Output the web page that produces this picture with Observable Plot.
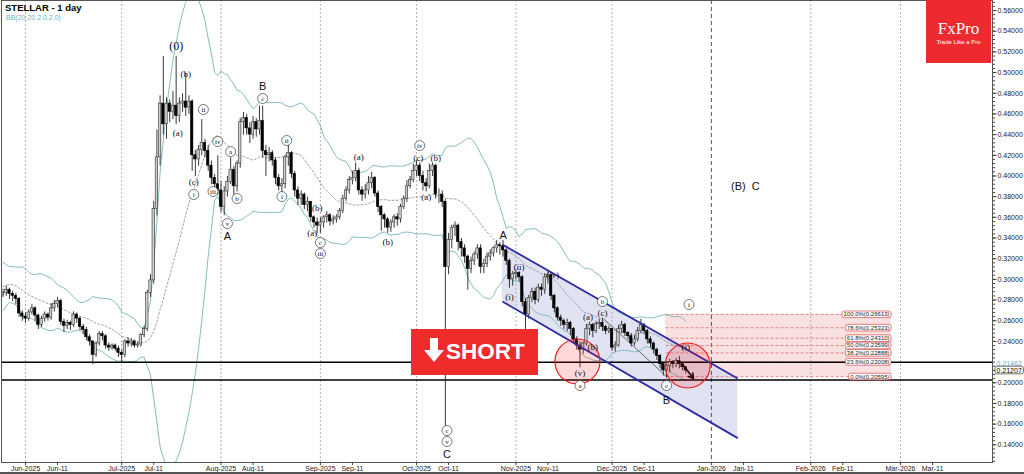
<!DOCTYPE html>
<html><head><meta charset="utf-8">
<script src="https://cdn.jsdelivr.net/npm/d3@7"></script>
<script src="https://cdn.jsdelivr.net/npm/@observablehq/plot@0.6"></script>
<style>
html,body{margin:0;padding:0;background:#fff;}
#wrap{position:relative;width:1024px;height:474px;overflow:hidden;font-family:"Liberation Sans",Arial,sans-serif;}
#wrap svg.main{position:absolute;left:0;top:0;}
.ov{position:absolute;}
#title{left:5px;top:2px;font-size:9.5px;font-weight:bold;color:#000;}
#sub{left:6px;top:14px;font-size:7px;color:#74aeb4;}
#logo{left:926px;top:0;width:65px;height:63px;background:#ed2a2f;color:#fff;text-align:center;}
#logo .b{font-family:"Liberation Serif","DejaVu Serif",serif;font-size:17px;margin-top:20px;line-height:17px;}
#logo .s{font-size:6px;margin-top:2px;}
#short{left:411px;top:329px;width:127px;height:46px;background:#f02b2c;color:#fff;}
#short .t{position:absolute;left:35px;top:10px;font-size:22.5px;font-weight:bold;line-height:26px;}
#bottom{left:0;top:472px;width:1024px;height:2px;background:#555;}
#dbg{left:300px;top:20px;font-size:9px;color:#c00;}
</style></head>
<body>
<div id="wrap">
  <div class="ov" id="title">STELLAR - 1 day</div>
  <div class="ov" id="sub">BB(20,20,2.0,2.0)</div>
  <div class="ov" id="logo"><div class="b">FxPro</div><div class="s">Trade Like a Pro</div></div>
  <div class="ov" id="short"><svg width="30" height="46" style="position:absolute;left:10px;top:0"><polygon points="9,9 17,9 17,21 23,21 13,33 3,21 9,21" fill="#fff"/></svg><div class="t">SHORT</div></div>
  <div class="ov" id="bottom"></div>
  <div class="ov" id="dbg"></div>
</div>
<script>
// ---------- DATA ----------
const candleStart = "2025-05-25";
// closes of the 20 days before the first visible candle (used only for the Bollinger band)
const priorCloses = [0.268,0.266,0.270,0.290,0.302,0.310,0.305,0.312,0.310,0.300,0.292,0.290,0.284,0.294,0.290,0.289,0.296,0.300,0.286,0.288];

const opens = [
 0.285,0.287,0.290,0.286,0.284,0.281,0.267,
 0.264,0.262,0.268,0.272,0.265,0.256,0.262,0.266,0.263,0.272,0.276,0.279,0.259,0.255,0.258,0.256,0.266,0.262,0.254,0.251,0.244,0.240,0.227,0.238,0.247,0.245,0.236,0.234,0.236,0.233,
 0.229,0.227,0.240,0.238,0.240,0.236,0.237,0.246,0.252,0.287,0.299,0.368,0.418,0.470,0.450,0.470,0.462,0.468,0.458,0.470,0.472,0.466,0.472,0.420,0.416,0.425,0.432,0.424,0.410,0.398,0.392,
 0.386,0.370,0.385,0.394,0.406,0.390,0.412,0.452,0.456,0.446,0.440,0.452,0.445,0.453,0.424,0.420,0.422,0.415,0.398,0.390,0.392,0.418,0.422,0.402,0.386,0.378,0.382,0.372,0.375,0.360,0.355,
 0.352,0.355,0.360,0.362,0.356,0.358,0.360,0.366,0.378,0.386,0.396,0.398,0.405,0.386,0.382,0.386,0.393,0.398,0.383,0.370,0.362,0.358,0.350,0.355,0.360,0.358,0.370,0.378,0.390,0.396,
 0.405,0.410,0.400,0.393,0.390,0.405,0.410,0.382,0.382,0.375,0.312,0.338,0.350,0.352,0.336,0.330,0.322,0.310,0.318,0.324,0.330,0.312,0.315,0.322,0.325,0.330,0.333,0.332,0.328,0.318,0.300,
 0.305,0.306,0.302,0.278,0.266,0.282,0.288,0.280,0.292,0.290,0.302,0.304,0.284,0.272,0.263,0.260,0.256,0.258,0.252,0.242,0.236,0.232,0.238,0.252,0.256,0.250,0.257,0.258,0.254,0.250,
 0.252,0.234,0.236,0.252,0.256,0.248,0.245,0.238,0.242,0.250,0.256,0.250,0.242,0.238,0.232,0.226,0.218,0.212,0.216,0.220,0.218,0.221,0.218,0.215];
const highs = [
 0.291,0.294,0.292,0.289,0.287,0.283,0.270,
 0.268,0.271,0.276,0.274,0.267,0.265,0.269,0.268,0.277,0.280,0.283,0.281,0.262,0.261,0.260,0.269,0.268,0.264,0.257,0.254,0.247,0.241,0.240,0.250,0.250,0.247,0.239,0.238,0.238,0.236,
 0.232,0.242,0.244,0.243,0.241,0.240,0.248,0.255,0.290,0.305,0.376,0.445,0.478,0.516,0.476,0.474,0.482,0.516,0.476,0.480,0.500,0.478,0.474,0.425,0.430,0.455,0.436,0.430,0.415,0.402,0.420,
 0.395,0.390,0.400,0.418,0.410,0.415,0.456,0.462,0.460,0.452,0.458,0.456,0.468,0.468,0.430,0.428,0.425,0.418,0.402,0.398,0.420,0.430,0.424,0.405,0.390,0.386,0.384,0.380,0.376,0.362,0.360,
 0.360,0.362,0.366,0.364,0.362,0.363,0.369,0.382,0.390,0.400,0.405,0.413,0.408,0.390,0.392,0.400,0.404,0.400,0.386,0.372,0.364,0.360,0.358,0.363,0.364,0.373,0.381,0.396,0.400,0.412,
 0.415,0.413,0.405,0.398,0.412,0.413,0.412,0.388,0.386,0.378,0.345,0.353,0.356,0.354,0.340,0.334,0.324,0.322,0.327,0.334,0.334,0.320,0.326,0.329,0.332,0.338,0.336,0.338,0.330,0.320,0.308,
 0.309,0.308,0.304,0.282,0.285,0.292,0.292,0.296,0.296,0.306,0.309,0.306,0.286,0.274,0.266,0.262,0.262,0.260,0.254,0.245,0.240,0.240,0.257,0.259,0.258,0.260,0.262,0.263,0.256,0.255,
 0.253,0.240,0.256,0.260,0.258,0.250,0.248,0.246,0.254,0.262,0.258,0.252,0.245,0.240,0.234,0.228,0.220,0.218,0.223,0.222,0.224,0.226,0.220,0.216];
const lows = [
 0.283,0.284,0.281,0.279,0.276,0.264,0.260,
 0.258,0.260,0.266,0.260,0.252,0.254,0.259,0.260,0.261,0.269,0.273,0.256,0.249,0.252,0.251,0.254,0.258,0.251,0.247,0.241,0.236,0.218,0.225,0.236,0.241,0.233,0.231,0.232,0.231,0.225,
 0.220,0.225,0.235,0.235,0.234,0.234,0.235,0.244,0.250,0.283,0.296,0.362,0.410,0.440,0.436,0.452,0.455,0.450,0.452,0.462,0.458,0.460,0.405,0.400,0.410,0.420,0.418,0.405,0.392,0.388,0.382,
 0.365,0.362,0.380,0.392,0.380,0.385,0.408,0.440,0.440,0.432,0.436,0.438,0.440,0.418,0.400,0.414,0.410,0.392,0.386,0.384,0.388,0.410,0.398,0.380,0.372,0.372,0.368,0.366,0.356,0.350,0.345,
 0.345,0.350,0.355,0.352,0.353,0.355,0.358,0.364,0.376,0.383,0.392,0.395,0.382,0.376,0.378,0.382,0.388,0.380,0.365,0.347,0.350,0.345,0.346,0.350,0.352,0.355,0.368,0.375,0.388,0.394,
 0.400,0.395,0.386,0.385,0.388,0.400,0.378,0.374,0.370,0.156,0.305,0.330,0.342,0.328,0.322,0.316,0.290,0.306,0.314,0.320,0.306,0.306,0.312,0.318,0.322,0.326,0.324,0.322,0.314,0.292,0.294,
 0.300,0.298,0.274,0.252,0.262,0.278,0.276,0.278,0.284,0.286,0.296,0.280,0.268,0.260,0.255,0.252,0.250,0.246,0.238,0.232,0.215,0.228,0.236,0.246,0.244,0.248,0.252,0.250,0.247,0.248,
 0.231,0.230,0.235,0.248,0.245,0.242,0.235,0.236,0.240,0.248,0.247,0.238,0.234,0.228,0.222,0.214,0.207,0.205,0.210,0.214,0.215,0.214,0.212,0.209];
const closes = [
 0.287,0.290,0.286,0.284,0.281,0.267,0.264,
 0.262,0.268,0.272,0.265,0.256,0.262,0.266,0.263,0.272,0.276,0.279,0.259,0.255,0.258,0.256,0.266,0.262,0.254,0.251,0.244,0.240,0.227,0.238,0.247,0.245,0.236,0.234,0.236,0.233,0.229,
 0.227,0.240,0.238,0.240,0.236,0.237,0.246,0.252,0.287,0.299,0.368,0.418,0.470,0.450,0.470,0.462,0.468,0.458,0.470,0.472,0.466,0.472,0.420,0.416,0.425,0.432,0.424,0.410,0.398,0.392,0.386,
 0.370,0.385,0.394,0.406,0.390,0.412,0.452,0.456,0.446,0.440,0.452,0.445,0.453,0.424,0.420,0.422,0.415,0.398,0.390,0.392,0.418,0.422,0.402,0.386,0.378,0.382,0.372,0.375,0.360,0.355,0.352,
 0.355,0.360,0.362,0.356,0.358,0.360,0.366,0.378,0.386,0.396,0.398,0.405,0.386,0.382,0.386,0.393,0.398,0.383,0.370,0.362,0.358,0.350,0.355,0.360,0.358,0.370,0.378,0.390,0.396,0.405,
 0.410,0.400,0.393,0.390,0.405,0.410,0.382,0.382,0.375,0.312,0.338,0.350,0.352,0.336,0.330,0.322,0.310,0.318,0.324,0.330,0.312,0.315,0.322,0.325,0.330,0.333,0.332,0.328,0.318,0.300,0.305,
 0.306,0.302,0.278,0.266,0.282,0.288,0.280,0.292,0.290,0.302,0.304,0.284,0.272,0.263,0.260,0.256,0.258,0.252,0.242,0.236,0.232,0.238,0.252,0.256,0.250,0.257,0.258,0.254,0.250,0.252,
 0.234,0.236,0.252,0.256,0.248,0.245,0.238,0.242,0.250,0.256,0.250,0.242,0.238,0.232,0.226,0.218,0.212,0.216,0.220,0.218,0.221,0.218,0.215,0.212];

const xTickDates = ["2025-06-01","2025-06-11","2025-07-01","2025-07-11","2025-08-01","2025-08-11","2025-09-01","2025-09-11","2025-10-01","2025-10-11","2025-11-01","2025-11-11","2025-12-01","2025-12-11","2026-01-01","2026-01-11","2026-02-01","2026-02-11","2026-03-01","2026-03-11"];
const xTickLabels = ["Jun-2025","Jun-11","Jul-2025","Jul-11","Aug-2025","Aug-11","Sep-2025","Sep-11","Oct-2025","Oct-11","Nov-2025","Nov-11","Dec-2025","Dec-11","Jan-2026","Jan-11","Feb-2026","Feb-11","Mar-2026","Mar-11"];
const monthLines = ["2025-06-01","2025-07-01","2025-08-01","2025-09-01","2025-10-01","2025-11-01","2025-12-01","2026-02-01","2026-03-01"];
const yearLines = ["2026-01-01"];
const yTicks = [0.14,0.16,0.18,0.20,0.24,0.26,0.28,0.30,0.32,0.34,0.36,0.38,0.40,0.42,0.44,0.46,0.48,0.50,0.52,0.54,0.56];
const levelLines = [0.2198, 0.2027];

const fibLevels = [0.26613,0.25323,0.24310,0.23599,0.22888,0.22008,0.20595];
const fibNames = ["100.0%","78.6%","61.8%","50.0%","38.2%","23.6%","0.0%"];
const fibRange = ["2025-12-17T17:00","2026-02-26T05:00"];

const channelDates = ["2025-10-27T19:00","2026-01-09T05:00"];
const channelUpper = [0.3337, 0.2041];
const channelLower = [0.2786, 0.1465];

const trendDates = ["2025-11-28T10:00","2025-12-17T17:00"];
const trendValues = [0.2618, 0.2068];
const arrowDates = ["2025-12-23T07:00","2025-12-26T10:00"];
const arrowValues = [0.2167, 0.2041];

const circleDates = ["2025-11-20T05:00","2025-12-24T14:00"];
const circleValues = [0.2206, 0.2167];

const crossDates = ["2025-06-04T12:00","2025-06-21","2025-08-01","2025-08-25","2025-08-29","2025-10-09T12:00","2025-11-03","2025-12-14"];
const crossValues = [0.2586,0.2425,0.3934,0.3811,0.3646,0.3424,0.2909,0.2350];
const greenCrossDates = ["2025-07-08"];
const greenCrossValues = [0.2505];

const priceTags = [0.21462, 0.21207];

const waveDates = ["2025-07-18","2025-07-21","2025-07-18T12:00","2025-08-14","2025-08-14","2025-07-26T12:00","2025-07-31","2025-08-04","2025-07-23T12:00","2025-07-23T12:00","2025-07-29T12:00","2025-08-06","2025-08-03","2025-08-03","2025-08-21T12:00","2025-08-20","2025-08-31","2025-08-29T12:00","2025-09-01","2025-09-01","2025-09-13","2025-09-22","2025-10-02","2025-10-01T12:00","2025-10-07","2025-10-04","2025-10-10T12:00","2025-10-10T12:00","2025-10-10T12:00","2025-10-28","2025-10-30","2025-11-02","2025-11-12T12:00","2025-11-28","2025-11-23T12:00","2025-11-28","2025-11-25","2025-11-21","2025-11-21","2025-12-24","2025-12-18","2025-12-18","2025-12-25","2026-01-11T14:00"];
const waveValues = [0.5252,0.4981,0.4410,0.4865,0.4749,0.4643,0.4333,0.4236,0.3937,0.3821,0.3850,0.3782,0.3540,0.3414,0.4343,0.3801,0.3685,0.3443,0.3356,0.3250,0.4178,0.3356,0.4294,0.4169,0.4169,0.3792,0.1538,0.1432,0.1306,0.3424,0.2824,0.3115,0.3037,0.2786,0.2631,0.2670,0.2341,0.2089,0.1973,0.2341,0.1973,0.1828,0.2757,0.3898];
const waveTexts = ["(0)","(b)","(a)","B","c","ii","iv","a","(c)","i","iii","b","v","A","ii","i","(b)","(a)","c","iii","(a)","(b)","iv","(c)","(b)","(a)","c","v","C","A","(i)","(ii)","(iv)","b","(a)","(c)","(b)","(v)","a","(i)","c","B","i","(B)  C"];
const waveKinds = ["big","p","p","L","c","c","c","c","p","c","c","c","c","L","c","c","p","p","c","c","p","p","c","p","p","p","c","c","L","L","p","p","p","c","p","p","p","p","c","p","c","L","c","L"];

// ---------- BUILD ----------
const T = s => new Date(s.length === 10 ? s + "T00:00:00Z" : s + ":00Z");
const DAY = 864e5, HALF = 9 * 3600e3;
const t0 = +T(candleStart);
const candles = closes.map((c, i) => {
  const date = new Date(t0 + i * DAY);
  return {date, xa: new Date(+date - HALF), xb: new Date(+date + HALF), o: opens[i], h: highs[i], l: lows[i], c};
});
const allCloses = priorCloses.concat(closes);
const bb = candles.map((d, i) => {
  const w = allCloses.slice(i + 1, i + 21);
  const m = d3.mean(w);
  const sd = Math.sqrt(d3.mean(w, v => (v - m) ** 2));
  return {date: d.date, mid: m, up: m + 2 * sd, lo: m - 2 * sd};
});
const upC = candles.filter(d => d.c >= d.o), downC = candles.filter(d => d.c < d.o);
const tickMap = new Map(xTickDates.map((s, i) => [+T(s), xTickLabels[i]]));
const fa = T(fibRange[0]), fb = T(fibRange[1]);
const fibBand = [{xa: fa, xb: fb, ya: fibLevels[6], yb: fibLevels[0]}];
const fibRows = fibLevels.map((v, i) => ({v, xa: fa, xb: fb, label: `${fibNames[i]}(${v.toFixed(5)})`}));
const waves = waveTexts.map((t, i) => ({date: T(waveDates[i]), v: waveValues[i], t, k: waveKinds[i]}));
const channelArea = channelDates.map((s, i) => ({date: T(s), lo: channelLower[i], hi: channelUpper[i]}));
const channelLines = [
  {xa: T(channelDates[0]), xb: T(channelDates[1]), ya: channelUpper[0], yb: channelUpper[1]},
  {xa: T(channelDates[0]), xb: T(channelDates[1]), ya: channelLower[0], yb: channelLower[1]}];
const trend = trendDates.map((s, i) => ({date: T(s), v: trendValues[i]}));
const arrowRow = [{xa: T(arrowDates[0]), xb: T(arrowDates[1]), ya: arrowValues[0], yb: arrowValues[1]}];
const circles = circleDates.map((s, i) => ({date: T(s), v: circleValues[i]}));
const crosses = crossDates.map((s, i) => ({date: T(s), v: crossValues[i]}));
const gcrosses = greenCrossDates.map((s, i) => ({date: T(s), v: greenCrossValues[i]}));
const minorTicks = d3.range(0.124, 0.569, 0.004);
const serif = "Liberation Serif, DejaVu Serif, serif";

const markList = [
  ["fibBand", () => Plot.rect(fibBand, {x1: "xa", x2: "xb", y1: "ya", y2: "yb", fill: "#f6c9c9", fillOpacity: 0.55})],
  ["chanArea", () => Plot.areaY(channelArea, {x: "date", y1: "lo", y2: "hi", fill: "#d8d9ee", fillOpacity: 0.75})],
  ["months", () => Plot.ruleX(monthLines.map(T), {x: d => d, stroke: "#a0a0a0", strokeDasharray: "2,2", strokeWidth: 0.8})],
  ["year", () => Plot.ruleX(yearLines.map(T), {x: d => d, stroke: "#444", strokeDasharray: "4,3", strokeWidth: 0.9})],
  ["fibLines", () => Plot.link(fibRows, {x1: "xa", x2: "xb", y1: "v", y2: "v", stroke: "#e06a6a", strokeDasharray: "3,2", strokeWidth: 0.8})],
  ["bbMid", () => Plot.line(bb, {x: "date", y: "mid", stroke: "#8a8a8a", strokeDasharray: "2,2", strokeWidth: 0.8, clip: true})],
  ["bbUp", () => Plot.line(bb, {x: "date", y: "up", stroke: "#84bcc1", strokeWidth: 1, clip: true})],
  ["bbLo", () => Plot.line(bb, {x: "date", y: "lo", stroke: "#84bcc1", strokeWidth: 1, clip: true})],
  ["levels", () => Plot.ruleY(levelLines, {y: d => d, stroke: "#000", strokeWidth: 1.6})],
  ["wicks", () => Plot.link(candles, {x1: "date", x2: "date", y1: "l", y2: "h", stroke: "#222", strokeWidth: 0.9, clip: true})],
  ["upBody", () => Plot.rect(upC, {x1: "xa", x2: "xb", y1: "o", y2: "c", fill: "#cfcfcf", stroke: "#333", strokeWidth: 0.6, clip: true})],
  ["downBody", () => Plot.rect(downC, {x1: "xa", x2: "xb", y1: "o", y2: "c", fill: "#000", stroke: "#000", strokeWidth: 0.6, clip: true})],
  ["chanLines", () => Plot.link(channelLines, {x1: "xa", y1: "ya", x2: "xb", y2: "yb", stroke: "#2b2ba3", strokeWidth: 1.8})],
  ["trend", () => Plot.line(trend, {x: "date", y: "v", stroke: "#333", strokeWidth: 0.7})],
  ["arrow", () => Plot.arrow(arrowRow, {x1: "xa", y1: "ya", x2: "xb", y2: "yb", stroke: "#000", strokeWidth: 1.6, headLength: 6})],
  ["circles", () => Plot.dot(circles, {x: "date", y: "v", r: 22.5, fill: "#ff0000", fillOpacity: 0.15, stroke: "#ee1c1c", strokeWidth: 1.2})],
  ["crosses", () => Plot.dot(crosses, {x: "date", y: "v", symbol: "plus", r: 3.2, fill: "#b8232b"})],
  ["gcross", () => Plot.dot(gcrosses, {x: "date", y: "v", symbol: "plus", r: 3.2, fill: "#2d9a3a"})],
  ["waveCirc", () => Plot.dot(waves.filter(d => d.k === "c"), {x: "date", y: "v", r: 5, fill: "#fff", stroke: "#222", strokeWidth: 0.6})],
  ["waveCT", () => Plot.text(waves.filter(d => d.k === "c"), {x: "date", y: "v", text: "t", fontSize: 7, fontFamily: serif, fill: "#111"})],
  ["waveP", () => Plot.text(waves.filter(d => d.k === "p"), {x: "date", y: "v", text: "t", fontSize: 9, fontFamily: serif, fill: "#111"})],
  ["waveBig", () => Plot.text(waves.filter(d => d.k === "big"), {x: "date", y: "v", text: "t", fontSize: 12, fontFamily: serif, fill: "#111"})],
  ["waveL", () => Plot.text(waves.filter(d => d.k === "L"), {x: "date", y: "v", text: "t", fontSize: 11, fill: "#111"})],
  ["fibText", () => Plot.text(fibRows, {y: "v", x: "xb", text: "label", textAnchor: "end", dx: -2, fontSize: 6, fill: "#222"})],
  ["tag1", () => Plot.text([priceTags[0]], {y: d => d, frameAnchor: "right", textAnchor: "start", dx: 4, dy: -4, text: d => d.toFixed(5), fontSize: 7, fill: "#6aaeb4"})],
  ["tag2", () => Plot.text([priceTags[1]], {y: d => d, frameAnchor: "right", textAnchor: "start", dx: 4, text: d => d.toFixed(5), fontSize: 7, fill: "#000"})],
  ["frame", () => Plot.frame({stroke: "#555", strokeWidth: 1})],
  ["yMinor", () => Plot.axisY(minorTicks, {anchor: "right", tickSize: 2, tickFormat: () => "", stroke: "#444"})],
  ["yAxis", () => Plot.axisY(yTicks, {anchor: "right", tickSize: 3.5, tickPadding: 1.5, tickFormat: d => d.toFixed(5), fontSize: 7, stroke: "#444", fill: "#222"})],
  ["xAxis", () => Plot.axisX(xTickDates.map(T), {anchor: "bottom", tickSize: 3, tickPadding: 1, tickFormat: d => tickMap.get(+d), fontSize: 7, stroke: "#444", fill: "#222"})]
];

const opts = marks => ({
  width: 1024, height: 474,
  marginLeft: 1, marginRight: 32, marginTop: 0, marginBottom: 12,
  x: {type: "utc", domain: [T("2025-05-24T12:15"), T("2026-03-29T16:50")], axis: null},
  y: {domain: [0.1229, 0.5697], axis: null},
  style: {background: "transparent", fontFamily: "Liberation Sans, Arial, sans-serif", fontSize: "7px", overflow: "visible"},
  marks
});
const good = [], bad = [];
for (const [name, make] of markList) {
  try { const m = make(); Plot.plot(opts([m])); good.push(m); }
  catch (e) { bad.push(name + ": " + e.message); }
}
if (bad.length) document.getElementById("dbg").textContent = bad.join(" | ");
const plot = Plot.plot(opts(good));
plot.classList.add("main");
const wrap = document.getElementById("wrap");
wrap.insertBefore(plot, wrap.firstChild);

// boxes behind fib labels and the price tag
d3.select(plot).selectAll("text").each(function () {
  const t = this.textContent;
  if (/%\(/.test(t) || t === "0.21207") {
    const b = this.getBBox();
    const r = document.createElementNS("http://www.w3.org/2000/svg", "rect");
    r.setAttribute("x", b.x - 1.5); r.setAttribute("y", b.y - 0.3);
    r.setAttribute("width", b.width + 3); r.setAttribute("height", b.height + 0.6);
    r.setAttribute("rx", 2);
    r.setAttribute("fill", "#fff");
    r.setAttribute("stroke", t === "0.21207" ? "#333" : "#d94a4a");
    r.setAttribute("stroke-width", 0.7);
    const tr = this.getAttribute("transform"); if (tr) r.setAttribute("transform", tr);
    this.parentNode.insertBefore(r, this);
  }
});
</script>
</body></html>
